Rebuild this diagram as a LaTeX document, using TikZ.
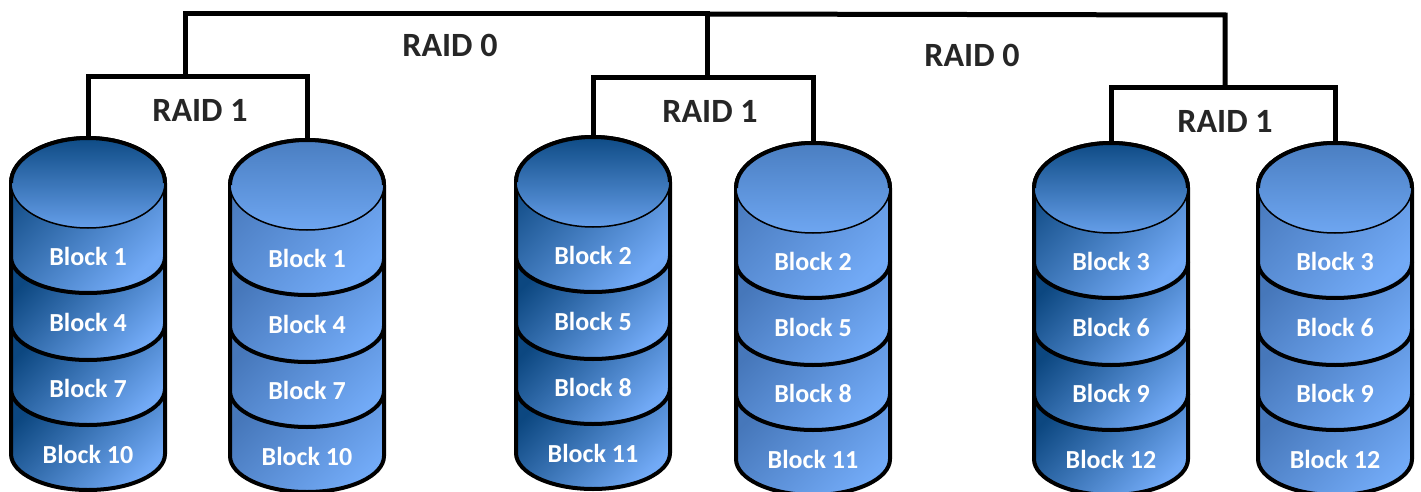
\documentclass[tikz,border=0pt]{standalone}
\usepackage{fontspec}
\setmainfont{Carlito}

% disk colours: dark and light variants
\definecolor{dkA}{HTML}{0C4780}
\definecolor{dkM}{HTML}{3E7AC3}
\definecolor{dkB}{HTML}{72AAF6}
\definecolor{dkCapA}{HTML}{0E4B85}
\definecolor{dkCapB}{HTML}{659EE9}
\definecolor{ltA}{HTML}{4677BA}
\definecolor{ltM}{HTML}{5A90D8}
\definecolor{ltB}{HTML}{72AAF6}
\definecolor{ltCapA}{HTML}{4A7EC1}
\definecolor{ltCapB}{HTML}{6EA6F1}
\definecolor{labelgray}{HTML}{262626}

% one stacked disk: name, centre x, top y, variant (dk/lt), four block labels
\newcommand{\drawdisk}[8]{%
  \begin{scope}[shift={(#2,-#3)}]
    \coordinate (#1) at (0,0);
    \foreach \d/\p in {352/287,287/222,222/155}{%
      \path[#4band, rim] (-77,-\p+36) -- (-77,-\d+36)
        arc[start angle=180, end angle=360, x radius=77, y radius=36]
        -- (77,-\p+36) -- cycle;
    }
    \path[#4band, rim] (-77,-45) -- (-77,-119)
      arc[start angle=180, end angle=360, x radius=77, y radius=36]
      -- (77,-45)
      arc[start angle=0, end angle=180, x radius=77, y radius=45] -- cycle;
    \shade[#4cap] (0,-45) ellipse[x radius=77, y radius=45];
    \draw[line width=1.5] (-77,-45)
      arc[start angle=180, end angle=360, x radius=77, y radius=45];
    \draw[line width=4] (-77,-45)
      arc[start angle=180, end angle=0, x radius=77, y radius=45];
    \node[blk] (#1-a) at (0,-118) {Block #5};
    \node[blk] (#1-b) at (0,-184) {Block #6};
    \node[blk] (#1-c) at (0,-250) {Block #7};
    \node[blk] (#1-d) at (0,-316) {Block #8};
  \end{scope}}

\begin{document}
\begin{tikzpicture}[x=1pt, y=1pt,
  wire/.style={line width=5, line join=miter},
  rim/.style={draw=black, line width=4, line join=round},
  dkband/.style={top color=dkA, middle color=dkM, bottom color=dkB, shading angle=45},
  ltband/.style={top color=ltA, middle color=ltM, bottom color=ltB, shading angle=45},
  dkcap/.style={top color=dkCapA, bottom color=dkCapB},
  ltcap/.style={top color=ltCapA, bottom color=ltCapB},
  blk/.style={font=\bfseries\fontsize{26}{26}\selectfont, text=white, inner sep=0pt},
  raid/.style={font=\bfseries\fontsize{34}{34}\selectfont, text=labelgray, inner sep=0pt}]
  \useasboundingbox (0,0) rectangle (1421,-492);

  % disks
  \drawdisk{d1}{88}{138}{dk}{1}{4}{7}{10}
  \drawdisk{d2}{307}{140}{lt}{1}{4}{7}{10}
  \drawdisk{d3}{593}{137}{dk}{2}{5}{8}{11}
  \drawdisk{d4}{813}{143}{lt}{2}{5}{8}{11}
  \drawdisk{d5}{1111}{143}{dk}{3}{6}{9}{12}
  \drawdisk{d6}{1335}{143}{lt}{3}{6}{9}{12}

  % junction points of the array tree
  \coordinate (m1) at (185,-77);
  \coordinate (m2) at (707,-78);
  \coordinate (m3) at (1225,-88);
  \coordinate (t1) at (185,-14);
  \coordinate (t2) at (707,-14);
  \coordinate (t3) at (1225,-15);

  % RAID 1 mirror pairs
  \draw[wire] (d1) |- (m1) -| (d2);
  \draw[wire] (d3) |- (m2) -| (d4);
  \draw[wire] (d5) |- (m3) -| (d6);
  % RAID 0 stripes
  \draw[wire] (m1) -- (t1) -- (t2) -- (m2);
  \draw[wire] (t2) -- (t3) -- (m3);

  \node[raid] (r1a) at (200,-110) {RAID 1};
  \node[raid] (r1b) at (710,-111) {RAID 1};
  \node[raid] (r1c) at (1225,-121) {RAID 1};
  \node[raid] (r0a) at (450,-45) {RAID 0};
  \node[raid] (r0b) at (972,-55) {RAID 0};
\end{tikzpicture}
\end{document}
